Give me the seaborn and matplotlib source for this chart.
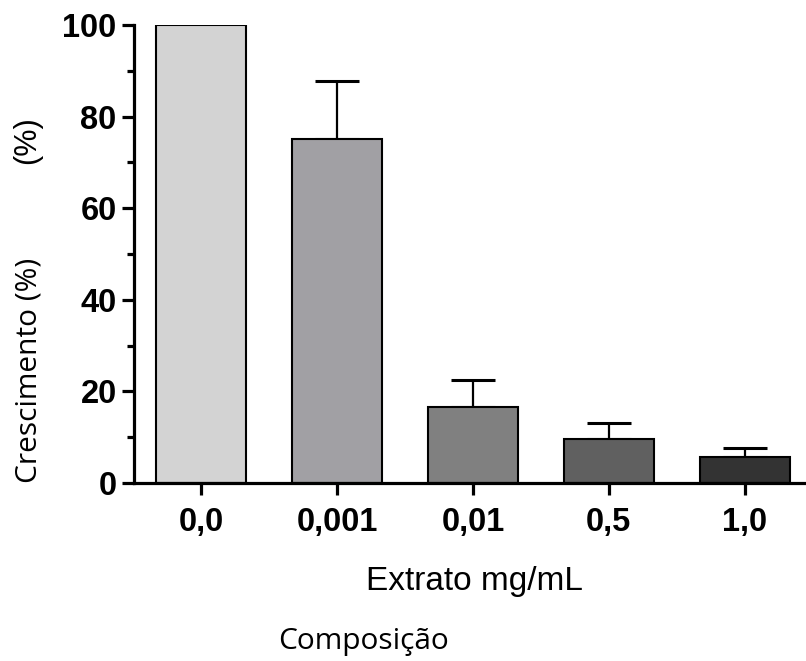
import numpy as np
import pandas as pd
import matplotlib
matplotlib.use("Agg")
import matplotlib.pyplot as plt
import seaborn as sns
from matplotlib.ticker import MultipleLocator

# data
concentrations = ["0,0", "0,001", "0,01", "0,5", "1,0"]
growth = [100.0, 75.1, 16.6, 9.6, 5.7]
err_upper = [0.0, 12.7, 5.9, 3.5, 1.9]
bar_colors = ["#d3d3d3", "#a1a0a4", "#808080", "#606060", "#333333"]

sns.set_style("ticks")
plt.rcParams["font.family"] = ["Liberation Sans", "DejaVu Sans"]
for key in ["text.color", "axes.labelcolor", "xtick.color", "ytick.color",
            "axes.edgecolor"]:
    plt.rcParams[key] = "black"

df = pd.DataFrame({"conc": concentrations, "growth": growth})

fig = plt.figure(figsize=(8.06, 6.61), dpi=100)
ax = fig.add_axes([134 / 806, 1 - 483 / 661, 672 / 806, 458 / 661])

sns.barplot(data=df, x="conc", y="growth", hue="conc", palette=bar_colors,
            width=0.66, edgecolor="black", linewidth=1.5, legend=False,
            errorbar=None, ax=ax, zorder=2)

ax.errorbar(np.arange(len(concentrations)), growth,
            yerr=[np.zeros(len(err_upper)), err_upper],
            fmt="none", ecolor="black", elinewidth=1.6, capsize=16,
            capthick=2.2, zorder=1)

ax.set_xlim(-0.493, 4.45)
ax.set_ylim(0, 100)
ax.yaxis.set_major_locator(MultipleLocator(20))
ax.yaxis.set_minor_locator(MultipleLocator(10))
sns.despine(ax=ax)
for side in ["left", "bottom"]:
    ax.spines[side].set_linewidth(2.3)
ax.tick_params(axis="both", which="major", length=8.5, width=2.3,
               labelsize=23.5)
ax.tick_params(axis="y", which="major", pad=4)
ax.tick_params(axis="x", which="major", pad=9)
ax.tick_params(axis="y", which="minor", length=5, width=2.3)
for lab in ax.get_xticklabels() + ax.get_yticklabels():
    lab.set_fontweight("bold")

ax.set_xlabel("")
ax.set_ylabel("")

humanist = ["Open Sans", "DejaVu Sans"]
fig.text(474 / 806, 1 - 590 / 661, "Extrato mg/mL", ha="center",
         va="baseline", fontsize=24)
fig.text(364 / 806, 1 - 649 / 661, "Composição", ha="center", va="baseline",
         fontsize=21.5, family=humanist)
fig.text(29 / 806, 1 - 370 / 661, "Crescimento (%)", ha="center",
         va="center", rotation=90, fontsize=21.5, family=humanist)
fig.text(27 / 806, 1 - 140 / 661, "(%)", ha="center", va="center",
         rotation=90, fontsize=22)

fig.savefig("out.png", dpi=100)
